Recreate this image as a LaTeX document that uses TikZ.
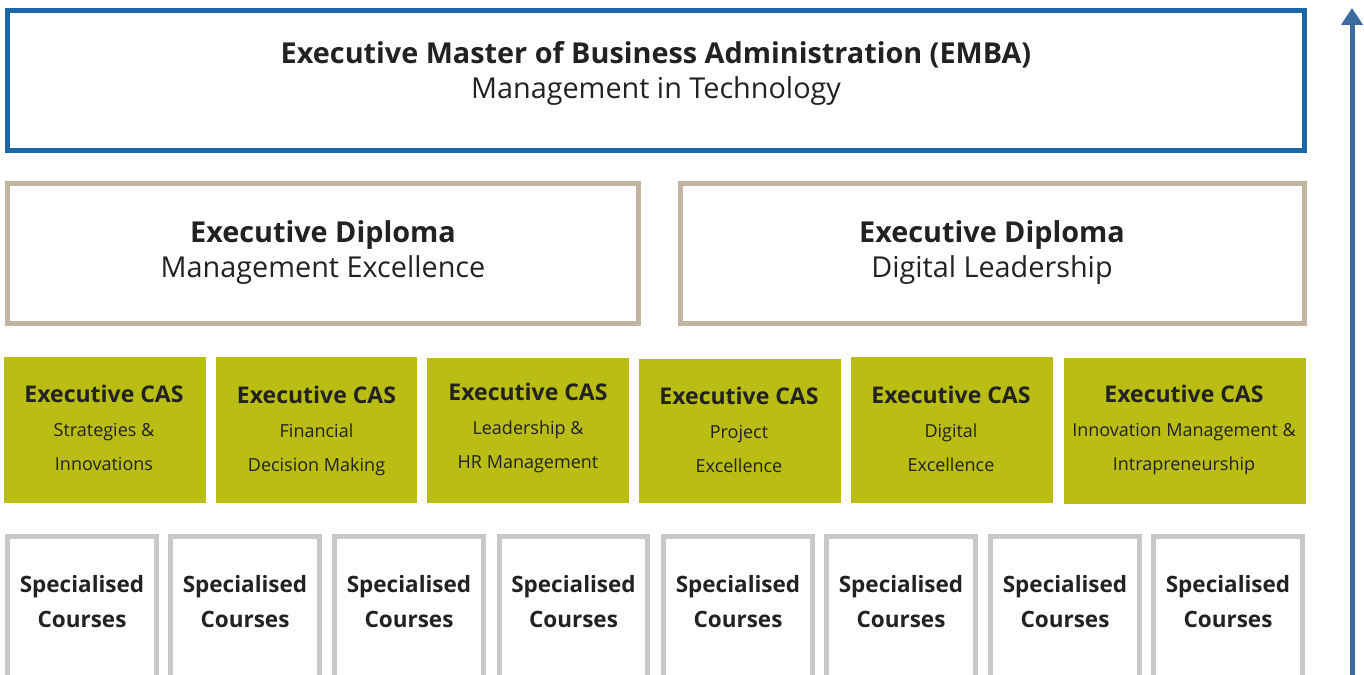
\documentclass[tikz,border=0pt]{standalone}
\usepackage{fontspec}
\setmainfont{Open Sans}
\usetikzlibrary{arrows.meta}
\definecolor{embablue}{HTML}{1A68A8}
\definecolor{arrowblue}{HTML}{3A6AA0}
\definecolor{diplbeige}{HTML}{C2B4A0}
\definecolor{casolive}{HTML}{B9BD14}
\definecolor{coursegray}{HTML}{C8C8C8}
\definecolor{ink}{HTML}{222222}
\tikzset{
  embabox/.style={draw=embablue, line width=5, inner sep=0, outer sep=0},
  diplbox/.style={draw=diplbeige, line width=5, inner sep=0, outer sep=0},
  casbox/.style={fill=casolive, draw=none, inner sep=0, outer sep=0},
  coursebox/.style={draw=coursegray, line width=5},
  bigtext/.style={text=ink, align=center, font=\fontsize{28.8}{35}\selectfont},
  castext/.style={text=ink, align=center, font=\fontsize{18}{34}\selectfont},
  coursetext/.style={text=ink, align=center, font=\fontsize{22.5}{35}\selectfont\bfseries},
}
\newcommand{\castitle}[1]{{\fontsize{23}{34}\selectfont\bfseries #1}}
\begin{document}
\begin{tikzpicture}[x=1pt,y=-1pt]
\useasboundingbox (0,0) rectangle (1364,674);
\clip (0,0) rectangle (1364,674);

% top level: EMBA
\node[embabox, minimum width=1297, minimum height=140] (emba) at (656,80.5) {};
\node[bigtext] (embatext) at (656,73) {\textbf{Executive Master of Business Administration (EMBA)}\\Management in Technology};

% diplomas
\node[diplbox, minimum width=631, minimum height=140] (dipl1) at (323,253.5) {};
\node[bigtext] (dipl1text) at (323,253) {\textbf{Executive Diploma}\\Management Excellence};
\node[diplbox, minimum width=624, minimum height=140] (dipl2) at (992.5,253.5) {};
\node[bigtext] (dipl2text) at (992,253) {\textbf{Executive Diploma}\\Digital Leadership};

% CAS row
\node[casbox, minimum width=202, minimum height=146] (cas1) at (105,430) {};
\node[castext] (cas1text) at (104,428) {\castitle{Executive CAS}\\Strategies \&\\Innovations};
\node[casbox, minimum width=201, minimum height=146] (cas2) at (316.5,430) {};
\node[castext] (cas2text) at (316.5,431) {\castitle{Executive CAS}\\Financial\\Decision Making};
\node[casbox, minimum width=202, minimum height=145] (cas3) at (528,430.5) {};
\node[castext] (cas3text) at (528,428) {\castitle{Executive CAS}\\Leadership \&\\HR Management};
\node[casbox, minimum width=202, minimum height=144] (cas4) at (740,431) {};
\node[castext] (cas4text) at (739,430) {\castitle{Executive CAS}\\Project\\Excellence};
\node[casbox, minimum width=202, minimum height=146] (cas5) at (952,430) {};
\node[castext] (cas5text) at (951,429) {\castitle{Executive CAS}\\Digital\\Excellence};
\node[casbox, minimum width=242, minimum height=146] (cas6) at (1185,431) {};
\node[castext] (cas6text) at (1184,430) {\castitle{Executive CAS}\\Innovation Management \&\\Intrapreneurship};

% specialised courses (open towards the bottom)
\foreach \i/\xl/\xr in {1/7.5/156.5, 2/170.5/319.5, 3/334.5/483.5, 4/499.5/647.5,
                        5/663.5/812.5, 6/826.5/975.5, 7/990.5/1139.5, 8/1153.5/1302.5}{
  \coordinate (c\i bl) at (\xl,690);
  \coordinate (c\i tl) at (\xl,536);
  \coordinate (c\i tr) at (\xr,536);
  \coordinate (c\i br) at (\xr,690);
  \draw[coursebox] (c\i bl) -- (c\i tl) -- (c\i tr) -- (c\i br);
  \node[coursetext] (c\i text) at ({(\xl+\xr)/2},602) {Specialised\\Courses};
}

% progression arrow
\coordinate (arrowbase) at (1352,690);
\coordinate (arrowtip) at (1352,8);
\draw[arrowblue, line width=5, -{Triangle[length=17,width=21]}] (arrowbase) -- (arrowtip);
\end{tikzpicture}
\end{document}
